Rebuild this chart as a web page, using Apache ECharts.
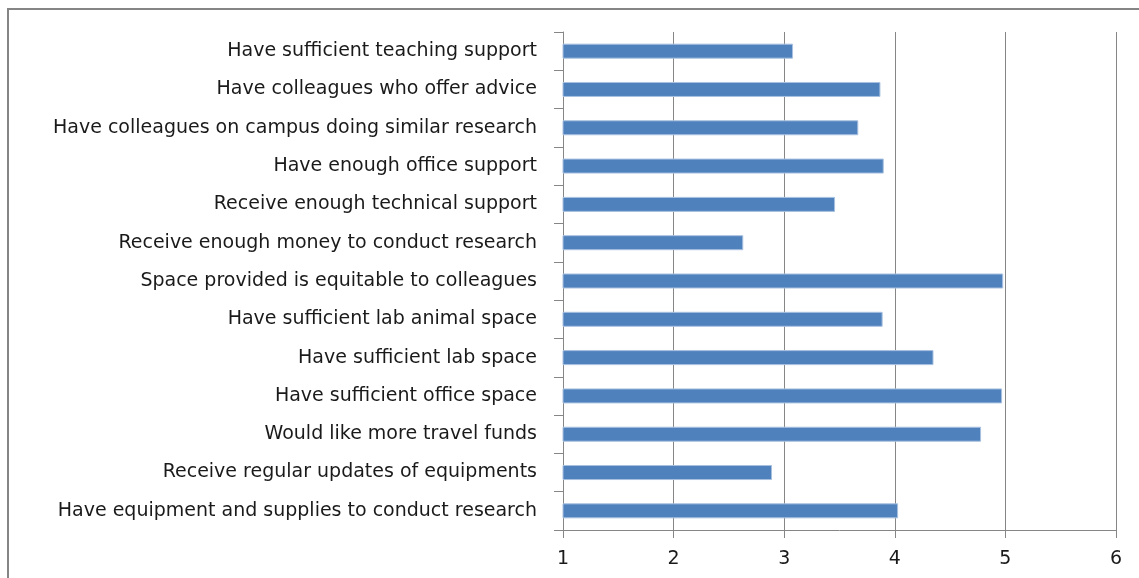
<!DOCTYPE html>
<html>
<head>
<meta charset="utf-8">
<script src="https://cdn.jsdelivr.net/npm/echarts@6/dist/echarts.min.js"></script>
<style>
html,body{margin:0;padding:0;background:#fff;}
#chart{width:1139px;height:578px;}
</style>
</head>
<body>
<div id="chart"></div>
<script>
// Categories, top to bottom
const categories = [
  "Have sufficient teaching support",
  "Have colleagues who offer advice",
  "Have colleagues on campus doing similar research",
  "Have enough office support",
  "Receive enough technical support",
  "Receive enough money to conduct research",
  "Space provided is equitable to colleagues",
  "Have sufficient lab animal space",
  "Have sufficient lab space",
  "Have sufficient office space",
  "Would like more travel funds",
  "Receive regular updates of equipments",
  "Have equipment and supplies to conduct research"
];
const values = [3.08, 3.87, 3.67, 3.90, 3.46, 2.63, 4.98, 3.89, 4.35, 4.97, 4.78, 2.89, 4.03];
const xTicks = [1, 2, 3, 4, 5, 6];

const chart = echarts.init(document.getElementById('chart'), null, {renderer: 'canvas'});
chart.setOption({
  animation: false,
  backgroundColor: '#ffffff',
  graphic: [{
    type: 'rect',
    shape: {x: 8, y: 9, width: 1200, height: 700},
    style: {fill: 'none', stroke: '#858585', lineWidth: 2},
    silent: true,
    z: 100
  }],
  grid: {left: 563, top: 32, right: 23, bottom: 48, containLabel: false},
  xAxis: {
    type: 'value',
    min: xTicks[0],
    max: xTicks[xTicks.length - 1],
    interval: 1,
    axisLine: {show: true, lineStyle: {color: '#868686', width: 1}},
    axisTick: {show: true, inside: false, length: 8, lineStyle: {color: '#868686'}},
    splitLine: {show: true, lineStyle: {color: '#868686', width: 1}},
    axisLabel: {
      fontFamily: '"DejaVu Sans", sans-serif',
      fontSize: 19,
      color: '#1a1a1a',
      margin: 20
    }
  },
  yAxis: {
    type: 'category',
    data: categories,
    inverse: true,
    axisLine: {show: true, lineStyle: {color: '#868686', width: 1}},
    axisTick: {show: true, length: 9, lineStyle: {color: '#868686'}},
    splitLine: {show: false},
    axisLabel: {
      fontFamily: '"DejaVu Sans", sans-serif',
      fontSize: 19,
      color: '#1a1a1a',
      margin: 26
    }
  },
  series: [{
    type: 'bar',
    data: values,
    barWidth: 15,
    itemStyle: {color: '#4f81bd', borderColor: '#a9c1e0', borderWidth: 1}
  }]
});
</script>
</body>
</html>
